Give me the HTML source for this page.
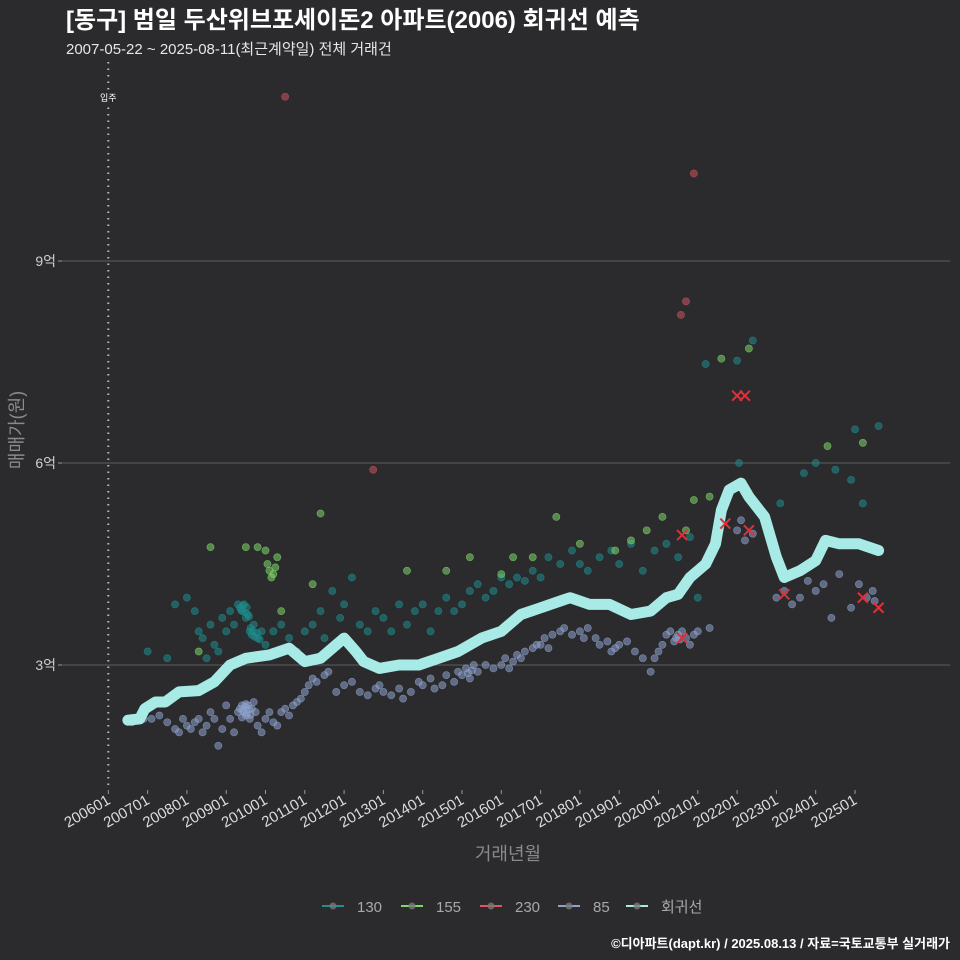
<!DOCTYPE html>
<html><head><meta charset="utf-8"><style>
html,body{margin:0;padding:0;background:#2b2b2d;}
svg{display:block;font-family:"Liberation Sans","Noto Sans CJK KR",sans-serif;}
</style></head><body>
<svg id="chart" width="960" height="960" viewBox="0 0 960 960">
<rect x="0" y="0" width="960" height="960" fill="#2b2b2d"/>
<text x="66" y="28" fill="#ffffff" font-size="24" font-weight="bold">[동구] 범일 두산위브포세이돈2 아파트(2006) 회귀선 예측</text>
<text x="66" y="54" fill="#e6e6e6" font-size="15">2007-05-22 ~ 2025-08-11(최근계약일) 전체 거래건</text>
<g id="grid"></g>
<g id="yaxis"></g>
<g id="xaxis"></g>
<g id="points"></g>
<g id="reg"></g>
<g id="marks"></g>
<text x="0" y="0" transform="translate(23,430) rotate(-90)" text-anchor="middle" fill="#8a8a8a" font-size="18">매매가(원)</text>
<text x="508" y="860" text-anchor="middle" fill="#8a8a8a" font-size="18">거래년월</text>
<g id="legend"></g>
<text x="950" y="948" text-anchor="end" fill="#ffffff" font-size="13" font-weight="bold">©디아파트(dapt.kr) / 2025.08.13 / 자료=국토교통부 실거래가</text>
</svg>
<script>
const yTicks = [3, 6, 9];
const yTickLabels = ["3억", "6억", "9억"];
const xTickYears = [2006,2007,2008,2009,2010,2011,2012,2013,2014,2015,2016,2017,2018,2019,2020,2021,2022,2023,2024,2025];
const xTickLabels = ["200601","200701","200801","200901","201001","201101","201201","201301","201401","201501","201601","201701","201801","201901","202001","202101","202201","202301","202401","202501"];
const seriesNames = ["130","155","230","85","회귀선"];
const s85 = [[2006.6,2.15],[2006.9,2.2],[2007.1,2.2],[2007.3,2.25],[2007.5,2.15],[2007.7,2.05],[2007.8,2.0],[2007.9,2.2],[2008.0,2.1],[2008.1,2.05],[2008.2,2.15],[2008.3,2.2],[2008.4,2.0],[2008.5,2.1],[2008.6,2.3],[2008.7,2.2],[2008.8,1.8],[2008.9,2.05],[2009.0,2.4],[2009.1,2.2],[2009.2,2.0],[2009.3,2.3],[2009.35,2.35],[2009.4,2.4],[2009.45,2.3],[2009.5,2.25],[2009.55,2.4],[2009.6,2.2],[2009.65,2.35],[2009.7,2.45],[2009.75,2.3],[2009.8,2.1],[2009.9,2.0],[2009.42,2.32],[2009.48,2.38],[2009.52,2.28],[2009.58,2.34],[2009.62,2.26],[2009.5,2.42],[2009.4,2.22],[2010.0,2.2],[2010.1,2.3],[2010.2,2.15],[2010.3,2.1],[2010.4,2.3],[2010.5,2.35],[2010.6,2.25],[2010.7,2.4],[2010.8,2.45],[2010.9,2.5],[2011.0,2.6],[2011.1,2.7],[2011.2,2.8],[2011.3,2.75],[2011.5,2.85],[2011.6,2.9],[2011.8,2.6],[2012.0,2.7],[2012.2,2.75],[2012.4,2.6],[2012.6,2.55],[2012.8,2.65],[2012.9,2.7],[2013.0,2.6],[2013.2,2.55],[2013.4,2.65],[2013.5,2.5],[2013.7,2.6],[2013.9,2.75],[2014.0,2.7],[2014.2,2.8],[2014.3,2.65],[2014.5,2.7],[2014.6,2.85],[2014.8,2.75],[2014.9,2.9],[2015.0,2.85],[2015.1,2.95],[2015.2,2.8],[2015.3,3.0],[2015.4,2.9],[2015.6,3.0],[2015.8,2.95],[2015.15,2.88],[2015.25,2.92],[2016.0,3.0],[2016.1,3.1],[2016.2,2.95],[2016.3,3.05],[2016.4,3.15],[2016.5,3.1],[2016.6,3.2],[2016.8,3.25],[2016.9,3.3],[2017.0,3.3],[2017.1,3.4],[2017.2,3.25],[2017.3,3.45],[2017.5,3.5],[2017.6,3.55],[2017.8,3.45],[2018.0,3.5],[2018.1,3.4],[2018.2,3.55],[2018.4,3.4],[2018.5,3.3],[2018.7,3.35],[2018.8,3.2],[2018.9,3.25],[2019.0,3.3],[2019.2,3.35],[2019.4,3.2],[2019.6,3.1],[2019.8,2.9],[2019.9,3.1],[2020.0,3.2],[2020.1,3.3],[2020.2,3.45],[2020.3,3.5],[2020.4,3.35],[2020.5,3.45],[2020.6,3.5],[2020.7,3.4],[2020.8,3.3],[2020.9,3.45],[2020.45,3.4],[2020.55,3.38],[2021.0,3.5],[2021.3,3.55],[2022.0,5.0],[2022.1,5.15],[2022.2,4.85],[2022.4,4.95],[2023.0,4.0],[2023.2,4.1],[2023.4,3.9],[2023.6,4.0],[2023.8,4.25],[2024.0,4.1],[2024.2,4.2],[2024.4,3.7],[2024.6,4.35],[2024.9,3.85],[2025.1,4.2],[2025.3,4.0],[2025.45,4.1],[2025.5,3.95]];
const s130 = [[2007.0,3.2],[2007.5,3.1],[2007.7,3.9],[2008.0,4.0],[2008.2,3.8],[2008.3,3.5],[2008.4,3.4],[2008.5,3.1],[2008.6,3.6],[2008.7,3.3],[2008.8,3.2],[2008.9,3.7],[2009.0,3.5],[2009.1,3.8],[2009.2,3.6],[2009.3,3.9],[2009.35,3.85],[2009.4,3.8],[2009.45,3.9],[2009.5,3.7],[2009.55,3.75],[2009.6,3.5],[2009.65,3.45],[2009.7,3.6],[2009.8,3.4],[2009.9,3.5],[2009.38,3.82],[2009.42,3.88],[2009.48,3.78],[2009.52,3.86],[2009.58,3.72],[2009.62,3.55],[2009.68,3.5],[2009.72,3.42],[2009.78,3.48],[2009.85,3.38],[2010.0,3.3],[2010.2,3.5],[2010.4,3.6],[2010.6,3.4],[2010.8,3.2],[2011.0,3.5],[2011.2,3.6],[2011.4,3.8],[2011.5,3.4],[2011.7,4.1],[2011.9,3.7],[2012.0,3.9],[2012.2,4.3],[2012.4,3.6],[2012.6,3.5],[2012.8,3.8],[2013.0,3.7],[2013.2,3.5],[2013.4,3.9],[2013.6,3.6],[2013.8,3.8],[2014.0,3.9],[2014.2,3.5],[2014.4,3.8],[2014.6,4.0],[2014.8,3.8],[2015.0,3.9],[2015.2,4.1],[2015.4,4.2],[2015.6,4.0],[2015.8,4.1],[2016.0,4.3],[2016.2,4.2],[2016.4,4.3],[2016.6,4.25],[2016.8,4.4],[2017.0,4.3],[2017.2,4.6],[2017.5,4.5],[2017.8,4.7],[2018.0,4.5],[2018.2,4.4],[2018.5,4.6],[2018.8,4.7],[2019.0,4.5],[2019.3,4.8],[2019.6,4.4],[2019.9,4.7],[2020.2,4.8],[2020.5,4.6],[2020.8,4.9],[2021.2,7.47],[2022.0,7.52],[2022.4,7.82],[2022.05,6.0],[2021.0,4.0],[2023.7,5.85],[2024.0,6.0],[2025.0,6.5],[2025.6,6.55],[2025.2,5.4],[2023.1,5.4],[2024.9,5.75],[2024.5,5.9],[2021.5,5.0]];
const s155 = [[2008.6,4.75],[2009.5,4.75],[2009.8,4.75],[2010.0,4.7],[2010.05,4.5],[2010.1,4.4],[2010.15,4.3],[2010.2,4.35],[2010.25,4.45],[2010.3,4.6],[2010.4,3.8],[2011.4,5.25],[2008.3,3.2],[2011.2,4.2],[2013.6,4.4],[2014.6,4.4],[2015.2,4.6],[2016.0,4.35],[2016.3,4.6],[2016.8,4.6],[2017.4,5.2],[2018.0,4.8],[2018.9,4.7],[2019.3,4.85],[2019.7,5.0],[2020.1,5.2],[2020.7,5.0],[2020.9,5.45],[2021.6,7.55],[2022.3,7.7],[2025.2,6.3],[2024.3,6.25],[2021.3,5.5]];
const s230 = [[2010.5,11.44],[2012.74,5.9],[2020.9,10.3],[2020.7,8.4],[2020.57,8.2]];
const recentX = [[2020.6,3.4],[2022.0,7.0],[2022.2,7.0],[2022.3,5.0],[2021.7,5.1],[2023.2,4.05],[2025.2,4.0],[2025.6,3.85],[2020.6,4.93]];
const regYears = [2006.5,2006.8,2006.93,2007.2,2007.45,2007.8,2008.3,2008.7,2009.1,2009.5,2010.1,2010.6,2011.0,2011.4,2011.8,2012.0,2012.3,2012.5,2012.9,2013.4,2013.9,2014.4,2014.9,2015.5,2016.0,2016.5,2017.0,2017.5,2017.75,2018.25,2018.75,2019.3,2019.8,2020.2,2020.5,2020.8,2021.2,2021.45,2021.6,2021.8,2022.1,2022.3,2022.7,2023.0,2023.2,2023.6,2024.0,2024.25,2024.6,2025.1,2025.6];
const regValues = [2.18,2.2,2.35,2.45,2.45,2.6,2.62,2.75,3.0,3.1,3.15,3.25,3.05,3.1,3.3,3.4,3.2,3.05,2.95,3.0,3.0,3.1,3.2,3.4,3.5,3.75,3.85,3.95,4.0,3.9,3.9,3.75,3.8,4.0,4.05,4.3,4.5,4.8,5.3,5.6,5.7,5.5,5.2,4.6,4.3,4.4,4.55,4.85,4.8,4.8,4.7];

const NS = "http://www.w3.org/2000/svg";
const xs = y => 108.3 + (y - 2006) * 39.3;
const ys = v => 665 - (v - 3) * 67.33;
function mk(tag, attrs, parent) {
  const el = document.createElementNS(NS, tag);
  for (const k in attrs) el.setAttribute(k, attrs[k]);
  parent.appendChild(el);
  return el;
}
const grid = document.getElementById('grid');
const yaxis = document.getElementById('yaxis');
const xaxis = document.getElementById('xaxis');
yTicks.forEach((t, i) => {
  const l = mk('line', {x1: 62, x2: 950, y1: ys(t), y2: ys(t), stroke: '#5c5c5c', 'stroke-width': 1}, grid);
  
  
  const tk = mk('line', {x1: 58, x2: 62, y1: ys(t), y2: ys(t), stroke: '#999', 'stroke-width': 1}, yaxis);
  
  
  const tx = mk('text', {x: 56, y: ys(t) + 5, 'text-anchor': 'end', fill: '#cfcfcf', 'font-size': 14}, yaxis);
  tx.textContent = yTickLabels[i];
  
  
});
xTickYears.forEach((yr, i) => {
  const x = xs(yr);
  const tk = mk('line', {x1: x, x2: x, y1: 790, y2: 794, stroke: '#999', 'stroke-width': 1}, xaxis);
  
  
  const tx = mk('text', {x: 0, y: 0, 'text-anchor': 'end', fill: '#dcdcdc', 'font-size': 15, transform: `translate(${x + 3},${803}) rotate(-30)`}, xaxis);
  tx.textContent = xTickLabels[i];
  
  
});
const mv = mk('line', {x1: 108.3, x2: 108.3, y1: 62, y2: 790, stroke: '#bbbbbb', 'stroke-width': 2, 'stroke-dasharray': '1.5,5'}, grid);


const mvt = mk('rect', {x: 99, y: 92, width: 19, height: 11, fill: '#2b2b2d'}, grid);


const mvl = mk('text', {x: 108.3, y: 101, 'text-anchor': 'middle', fill: '#ffffff', 'font-size': 9}, grid);
mvl.textContent = '입주';



const pts = document.getElementById('points');
const seriesDefs = [[s130, '#1f8c8c', 'point-130'], [s155, '#7fd66b', 'point-155'], [s230, '#c9545c', 'point-230'], [s85, '#8ea3cc', 'point-85']];
seriesDefs.forEach(([data, col, name]) => {
  data.forEach(d => {
    const c = mk('circle', {cx: xs(d[0]), cy: ys(d[1]), r: 3.6, fill: col, 'fill-opacity': 0.55, stroke: col, 'stroke-opacity': 0.7, 'stroke-width': 0.6}, pts);
    
    
  });
});
const reg = document.getElementById('reg');
let dstr = regYears.map((y, i) => (i ? 'L' : 'M') + xs(y).toFixed(1) + ',' + ys(regValues[i]).toFixed(1)).join(' ');
const rl = mk('path', {d: dstr, fill: 'none', stroke: '#a8ebe6', 'stroke-width': 11, 'stroke-linejoin': 'round', 'stroke-linecap': 'round'}, reg);


const marks = document.getElementById('marks');
recentX.forEach(d => {
  const x = xs(d[0]), y = ys(d[1]);
  const p = mk('path', {d: `M${x-5},${y-5}L${x+5},${y+5}M${x-5},${y+5}L${x+5},${y-5}`, stroke: '#e0303a', 'stroke-width': 2, fill: 'none'}, marks);
  
  
});
const legend = document.getElementById('legend');
const legCols = ['#1f9090', '#7fd66b', '#e05560', '#8ea3cc', '#a8ebe6'];
const legX = [322, 401, 480, 558, 626];
seriesNames.forEach((n, i) => {
  const g = mk('g', {}, legend);
  
  
  mk('line', {x1: legX[i], x2: legX[i] + 22, y1: 906, y2: 906, stroke: legCols[i], 'stroke-width': 2}, g);
  mk('circle', {cx: legX[i] + 11, cy: 906, r: 3.5, fill: '#777', 'fill-opacity': 0.8}, g);
  const t = mk('text', {x: legX[i] + 35, y: 912, fill: '#a8a8a8', 'font-size': 15}, g);
  t.textContent = n;
});
</script>
</body></html>
